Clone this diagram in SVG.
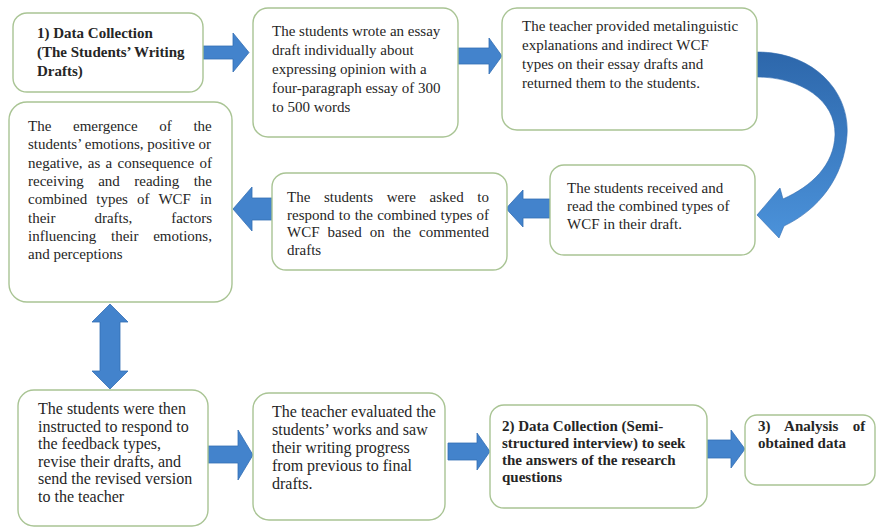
<svg xmlns="http://www.w3.org/2000/svg" width="878" height="529" viewBox="0 0 878 529">
<defs>
<style>
.box{fill:#ffffff;stroke:#a9c494;stroke-width:1.4}
.t{font-family:"Liberation Serif","Times New Roman",serif;font-size:15px;fill:#262626}
.b{font-weight:bold}
.l{font-size:16px}
.arr{fill:#4383cc;stroke:#336fb4;stroke-width:0.8}
</style>
<linearGradient id="cg" x1="0" y1="0" x2="0" y2="1">
<stop offset="0" stop-color="#2d67ab"/>
<stop offset="1" stop-color="#4b92da"/>
</linearGradient>
</defs>
<rect width="878" height="529" fill="#ffffff"/>

<g id="connectors">
<polygon class="arr" points="203,46 233,46 233,33 249,52.5 233,72 233,59 203,59"/>
<polygon class="arr" points="458,48 489,48 489,38 502,56 489,74 489,64 458,64"/>
<path fill="url(#cg)" stroke="#2f6aaf" stroke-width="0.6" d="M757,52 C814,52 850,92 847,135 C844,178 818,210 784,226 L779,238 L757,215 L780,188 L783,199 C812,186 834,165 835,135 C836,100 800,77 757,77 Z"/>
<polygon class="arr" points="550,199 523,199 523,190 506,208.5 523,227 523,218 550,218"/>
<polygon class="arr" points="272,198 252,198 252,187 233,209 252,231 252,220 272,220"/>
<polygon class="arr" points="110,304 128,322 120,322 120,371 128,371 110,389 92,371 100,371 100,322 92,322"/>
<polygon class="arr" points="208,446 238,446 238,430 253,455 238,480 238,463 208,463"/>
<polygon class="arr" points="448,443 477,443 477,433 490,451.5 477,470 477,460 448,460"/>
<polygon class="arr" points="707,440 731,440 731,430 745,449 731,468 731,458 707,458"/>
</g>

<g id="n1">
<rect class="box" x="13" y="13" width="190" height="79" rx="14"/>
<text class="t b" x="37"><tspan x="37" y="38">1) Data Collection</tspan><tspan x="37" y="57">(The Students’ Writing</tspan><tspan x="37" y="76">Drafts)</tspan></text>
</g>

<g id="n2">
<rect class="box" x="253" y="8" width="205" height="129" rx="15"/>
<text class="t"><tspan x="272" y="36">The students wrote an essay</tspan><tspan x="272" y="55">draft individually about</tspan><tspan x="272" y="74">expressing opinion with a</tspan><tspan x="272" y="93">four-paragraph essay of 300</tspan><tspan x="272" y="112">to 500 words</tspan></text>
</g>

<g id="n3">
<rect class="box" x="502" y="8" width="255" height="122" rx="15"/>
<text class="t"><tspan x="522" y="31">The teacher provided metalinguistic</tspan><tspan x="522" y="50">explanations and indirect WCF</tspan><tspan x="522" y="69">types on their essay drafts and</tspan><tspan x="522" y="88">returned them to the students.</tspan></text>
</g>

<g id="n4">
<rect class="box" x="550" y="165" width="205" height="90" rx="14"/>
<text class="t"><tspan x="567" y="193">The students received and</tspan><tspan x="567" y="211">read the combined types of</tspan><tspan x="567" y="229">WCF in their draft.</tspan></text>
</g>

<g id="n5">
<rect class="box" x="272" y="173" width="235" height="97" rx="14"/>
<text class="t" x="287" y="202" word-spacing="9.87">The students were asked to</text>
<text class="t" x="287" y="219.5" word-spacing="0.49">respond to the combined types of</text>
<text class="t" x="287" y="237" word-spacing="4.25">WCF based on the commented</text>
<text class="t" x="287" y="254.5">drafts</text>
</g>

<g id="n6">
<rect class="box" x="9" y="102" width="223" height="200" rx="18"/>
<text class="t" x="28" y="131" word-spacing="17.9">The emergence of the</text>
<text class="t" x="28" y="149.3">students’ emotions, positive or</text>
<text class="t" x="28" y="167.6" word-spacing="1.53">negative, as a consequence of</text>
<text class="t" x="28" y="185.9" word-spacing="10.65">receiving and reading the</text>
<text class="t" x="28" y="204.2" word-spacing="5.38">combined types of WCF in</text>
<text class="t" x="28" y="222.5" word-spacing="35.15">their drafts, factors</text>
<text class="t" x="28" y="240.8" word-spacing="10.95">influencing their emotions,</text>
<text class="t" x="28" y="259.1">and perceptions</text>
</g>

<g id="n7">
<rect class="box" x="18" y="390" width="190" height="136" rx="16"/>
<text class="t l"><tspan x="38" y="414">The students were then</tspan><tspan x="38" y="431.5">instructed to respond to</tspan><tspan x="38" y="449">the feedback types,</tspan><tspan x="38" y="466.5">revise their drafts, and</tspan><tspan x="38" y="484">send the revised version</tspan><tspan x="38" y="501.5">to the teacher</tspan></text>
</g>

<g id="n8">
<rect class="box" x="253" y="393" width="192" height="127" rx="16"/>
<text class="t l"><tspan x="272" y="417">The teacher evaluated the</tspan><tspan x="272" y="435">students’ works and saw</tspan><tspan x="272" y="453">their writing progress</tspan><tspan x="272" y="471">from previous to final</tspan><tspan x="272" y="489">drafts.</tspan></text>
</g>

<g id="n9">
<rect class="box" x="490" y="405" width="217" height="103" rx="14"/>
<text class="t b"><tspan x="502" y="431">2) Data Collection (Semi-</tspan><tspan x="502" y="448">structured interview) to seek</tspan><tspan x="502" y="465">the answers of the research</tspan><tspan x="502" y="482">questions</tspan></text>
</g>

<g id="n10">
<rect class="box" x="745" y="415" width="130" height="70" rx="12"/>
<text class="t b" x="758" y="431" word-spacing="10.65">3) Analysis of</text>
<text class="t b" x="758" y="448">obtained data</text>
</g>
</svg>
